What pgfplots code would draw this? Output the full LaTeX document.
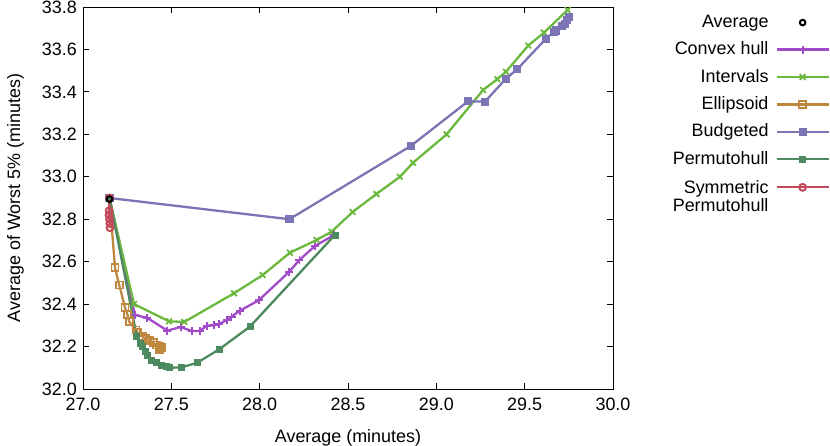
\documentclass[border=0pt]{standalone}
\usepackage{pgfplots}
\pgfplotsset{compat=1.18}
\usepackage{fontspec}
\setmainfont{Liberation Sans}
\definecolor{cHull}{HTML}{A24BC9}
\definecolor{cInt}{HTML}{6BB83F}
\definecolor{cEll}{HTML}{C0873E}
\definecolor{cBud}{HTML}{7B75B5}
\definecolor{cPerm}{HTML}{4E8A5F}
\definecolor{cSym}{HTML}{C24A5A}
\begin{document}
\fontsize{18}{21}\selectfont
\begin{tikzpicture}
\path[use as bounding box] (-83bp,-57bp) rectangle (747bp,389bp);
\begin{axis}[
  scale only axis, width=530bp, height=382bp,
  xmin=27, xmax=30, ymin=32, ymax=33.8,
  xtick={27,27.5,...,30}, ytick={32,32.2,...,33.81},
  xticklabel style={yshift=-3bp,/pgf/number format/.cd,fixed,fixed zerofill,precision=1},
  yticklabel style={/pgf/number format/.cd,fixed,fixed zerofill,precision=1},
  /pgf/number format/assume math mode=true,
  tick align=inside, major tick length=6bp,
  tick style={black, line width=0.8bp},
  axis line style={line width=0.9bp},
  xlabel={Average (minutes)}, ylabel={Average of Worst 5\% (minutes)},
  xlabel style={yshift=-6bp}, ylabel style={yshift=6bp},
  every tick label/.append style={font=\fontsize{18}{21}\selectfont},
  label style={font=\fontsize{18}{21}\selectfont},
  legend style={draw=none, fill=none, at={(1.4094,0.982)}, anchor=north east,
    font=\fontsize{18}{21}\selectfont, inner sep=0pt, row sep=9.7bp, column sep=6bp,
    nodes={inner sep=1pt}},
  legend cell align=right, legend plot pos=right,
  legend image code/.code={\draw[mark repeat=2,mark phase=2,#1] plot coordinates {(0bp,0bp) (26bp,0bp) (52bp,0bp)};},
  lw/.style={line width=2.3bp},
]
\addplot[only marks, mark=o, mark size=2.8bp, black, line width=2bp] coordinates {(27.15,32.895)};
\addlegendentry{Average}
\addplot[lw, cHull, mark=+, mark size=4bp, mark options={line width=1.8bp}] coordinates {
(27.15,32.90) (27.294,32.349) (27.364,32.335) (27.477,32.275) (27.553,32.292)
(27.615,32.273) (27.662,32.273) (27.70,32.298) (27.741,32.30) (27.771,32.306)
(27.813,32.325) (27.841,32.341) (27.888,32.369) (27.995,32.418) (28.168,32.553)
(28.225,32.608) (28.313,32.674) (28.42,32.725)};
\addlegendentry{Convex hull}
\addplot[lw, cInt, mark=x, mark size=4bp, mark options={line width=1.8bp}] coordinates {
(27.15,32.90) (27.289,32.40) (27.487,32.319) (27.573,32.316) (27.855,32.451)
(28.017,32.537) (28.171,32.642) (28.322,32.702) (28.407,32.741) (28.526,32.834)
(28.661,32.919) (28.794,33.00) (28.868,33.066) (29.058,33.20) (29.265,33.409)
(29.345,33.46) (29.394,33.495) (29.52,33.618) (29.609,33.679) (29.743,33.786)};
\addlegendentry{Intervals}
\addplot[lw, cEll, mark=square, mark size=3.5bp, mark options={line width=1.7bp}] coordinates {
(27.15,32.90) (27.181,32.573) (27.205,32.49) (27.238,32.383) (27.252,32.35)
(27.262,32.317) (27.30,32.278) (27.31,32.265) (27.338,32.246) (27.357,32.238)
(27.379,32.228) (27.398,32.218) (27.417,32.207) (27.436,32.199) (27.432,32.186)
(27.445,32.196)};
\addlegendentry{Ellipsoid}
\addplot[lw, cBud, mark=square*, mark size=3.6bp, mark options={line width=0.8bp}] coordinates {
(27.15,32.90) (28.168,32.80) (28.855,33.145) (29.18,33.356) (29.275,33.354)
(29.394,33.462) (29.458,33.507) (29.62,33.65) (29.666,33.684) (29.675,33.69)
(29.71,33.71) (29.728,33.72) (29.74,33.74) (29.75,33.755)};
\addlegendentry{Budgeted}
\addplot[lw, cPerm, mark=square*, mark size=3bp, mark options={line width=0.8bp}] coordinates {
(27.15,32.90) (27.304,32.25) (27.323,32.215) (27.338,32.199) (27.351,32.176)
(27.364,32.16) (27.389,32.137) (27.417,32.124) (27.445,32.113) (27.47,32.105)
(27.49,32.10) (27.558,32.102) (27.647,32.124) (27.771,32.187) (27.945,32.294)
(28.426,32.726)};
\addlegendentry{Permutohull}
\addplot[lw, cSym, mark=o, mark size=3.4bp, mark options={line width=2bp}] coordinates {
(27.15,32.90) (27.148,32.84) (27.147,32.82) (27.15,32.80) (27.152,32.78) (27.153,32.76)};
\addlegendentry{\begin{tabular}[t]{@{}r@{}}Symmetric\\[-3bp]Permutohull\end{tabular}}
\addplot[forget plot, only marks, mark=o, mark size=2.8bp, black, line width=2bp] coordinates {(27.15,32.895)};
\end{axis}
\end{tikzpicture}
\end{document}
